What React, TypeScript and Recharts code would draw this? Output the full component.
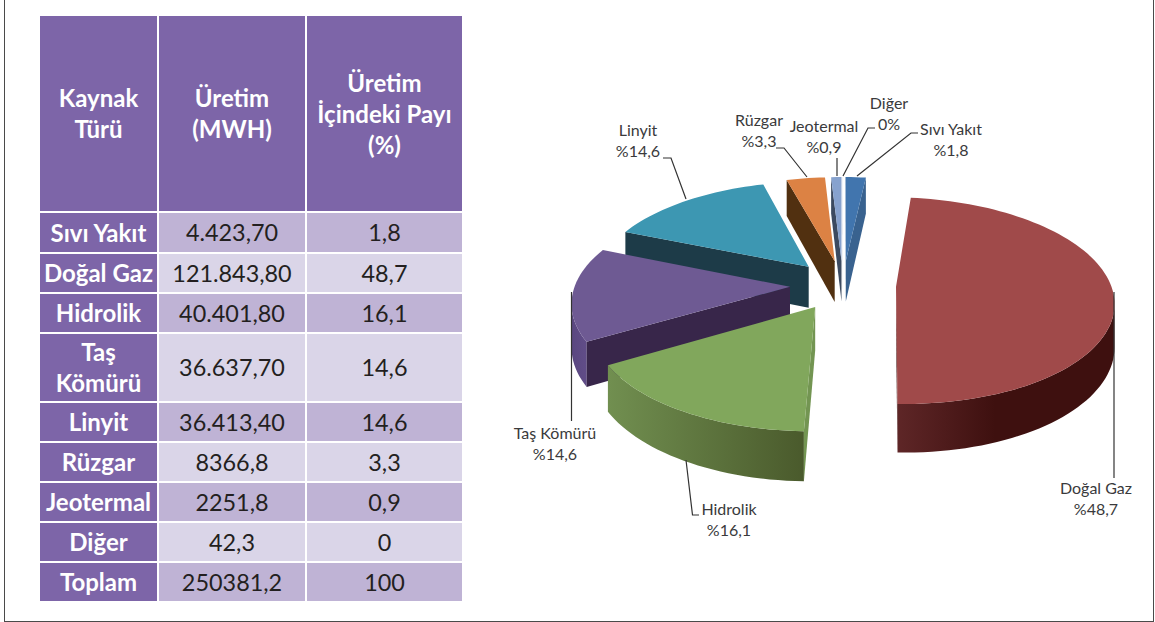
import { PieChart, Pie } from 'recharts'

const HEADERS = [['Kaynak', 'Türü'], ['Üretim', '(MWH)'], ['Üretim', 'İçindeki Payı', '(%)']]
const SOURCES = ['Sıvı Yakıt', 'Doğal Gaz', 'Hidrolik', 'Taş Kömürü', 'Linyit', 'Rüzgar', 'Jeotermal', 'Diğer']
const PRODUCTION = [4423.7, 121843.8, 40401.8, 36637.7, 36413.4, 8366.8, 2251.8, 42.3]
const PRODUCTION_TEXT = ['4.423,70', '121.843,80', '40.401,80', '36.637,70', '36.413,40', '8366,8', '2251,8', '42,3']
const SHARE_TEXT = ['1,8', '48,7', '16,1', '14,6', '14,6', '3,3', '0,9', '0']
const SLICE_LABELS = ['%1,8', '%48,7', '%16,1', '%14,6', '%14,6', '%3,3', '%0,9', '0%']
const TOTAL_TEXT = ['Toplam', '250381,2', '100']

const TOP_COLORS: Record<string, string> = {
  'Sıvı Yakıt': '#4175AE', 'Doğal Gaz': '#A04A4A', 'Hidrolik': '#81A75C', 'Taş Kömürü': '#6E5A93',
  'Linyit': '#3D97B2', 'Rüzgar': '#DC8244', 'Jeotermal': '#87A2CE', 'Diğer': '#B9C8E2',
}
const FACE_COLORS: Record<string, string> = {
  'Sıvı Yakıt': '#39628F', 'Doğal Gaz': '#3E100F', 'Hidrolik': '#739552', 'Taş Kömürü': '#38264A',
  'Linyit': '#1D3B48', 'Rüzgar': '#513010', 'Jeotermal': '#3C4A60', 'Diğer': '#7D8CA6',
}
const ARC_FILLS: Record<string, string> = {
  'Doğal Gaz': 'url(#arcGaz)', 'Hidrolik': 'url(#arcHidrolik)', 'Taş Kömürü': 'url(#arcTas)',
}
// back to front, so nearer slices cover the ones behind them
const DRAW_ORDER = ['Linyit', 'Rüzgar', 'Diğer', 'Jeotermal', 'Sıvı Yakıt', 'Taş Kömürü', 'Hidrolik', 'Doğal Gaz']

// label text centre and leader line (leader starts on the slice)
const LABEL_LAYOUT: Record<string, { x: number; y: number; line: string }> = {
  'Sıvı Yakıt': { x: 951, y: 130, line: '857,176 911,133 918,133' },
  'Doğal Gaz': { x: 1096, y: 489, line: '1114,292 1114,478' },
  'Hidrolik': { x: 729, y: 510, line: '686,460 692.5,515 699,515' },
  'Taş Kömürü': { x: 555, y: 434, line: '571.5,292 571.5,421' },
  'Linyit': { x: 638, y: 131, line: '686,199 671,158 663,158' },
  'Rüzgar': { x: 759, y: 121, line: '807,177 784,148 776,148' },
  'Jeotermal': { x: 824, y: 127, line: '837,176 837,158' },
  'Diğer': { x: 889, y: 104, line: '843,176 868,128 875,128' },
}

const pieData = SOURCES.map((name, i) => ({ name, value: PRODUCTION[i], label: SLICE_LABELS[i] }))

const EXPLODE = 53
const TILT = 0.47
const PERSPECTIVE = 0.134
const DEPTH = 42

// Excel style tilted pie: u goes right, v goes toward the viewer
function makeProjector(cx: number, cy: number, radius: number) {
  return (u: number, v: number, down = 0) => {
    const s = 1 / (1 - (PERSPECTIVE * v) / radius)
    return [cx + u * s, cy + (v * TILT + down) * s]
  }
}

function toPath(points: number[][]) {
  return 'M' + points.map((p) => `${p[0].toFixed(1)},${p[1].toFixed(1)}`).join('L') + 'Z'
}

function Slice3D(props: any) {
  const { cx, cy, outerRadius: r, startAngle, endAngle, midAngle, name } = props
  const project = makeProjector(cx, cy, r)
  const viewer = r / PERSPECTIVE
  const rad = Math.PI / 180
  // recharts angles run counter clockwise from 3 o'clock, here clockwise from 12
  const from = (90 - startAngle) * rad
  const to = (90 - endAngle) * rad
  const mid = (90 - midAngle) * rad
  const au = EXPLODE * Math.sin(mid)
  const av = -EXPLODE * Math.cos(mid)

  const rim = (t: number) => [au + r * Math.sin(t), av - r * Math.cos(t)]
  const steps = Math.max(2, Math.ceil(((to - from) / rad) / 2))
  const angles = Array.from({ length: steps + 1 }, (_, i) => from + ((to - from) * i) / steps)

  const top = [project(au, av), ...angles.map((t) => project(rim(t)[0], rim(t)[1]))]
  const front = angles.filter((t) => {
    const [u, v] = rim(t)
    return Math.sin(t) * -u + -Math.cos(t) * (viewer - v) > 0
  })
  const arc = [
    ...front.map((t) => project(rim(t)[0], rim(t)[1])),
    ...[...front].reverse().map((t) => project(rim(t)[0], rim(t)[1], DEPTH)),
  ]

  const face = (t: number, nu: number, nv: number) => {
    if (nu * -au + nv * (viewer - av) <= 0) return null
    const [u, v] = rim(t)
    return toPath([project(au, av), project(u, v), project(u, v, DEPTH), project(au, av, DEPTH)])
  }
  const startFace = face(from, -Math.cos(from), -Math.sin(from))
  const endFace = face(to, Math.cos(to), Math.sin(to))

  return (
    <g>
      {front.length > 1 && <path d={toPath(arc)} fill={ARC_FILLS[name] ?? FACE_COLORS[name]} />}
      {startFace && <path d={startFace} fill={FACE_COLORS[name]} />}
      {endFace && <path d={endFace} fill={FACE_COLORS[name]} />}
      <path d={toPath(top)} fill={TOP_COLORS[name]} />
    </g>
  )
}

function SliceLabel(props: any) {
  const layout = LABEL_LAYOUT[props.name]
  return (
    <g fontFamily="Lato" fontSize={16} fill="#3a3a3c" textAnchor="middle">
      <polyline points={layout.line} fill="none" stroke="#333" strokeWidth={1.2} />
      <text x={layout.x} y={layout.y + 5}>{props.name}</text>
      <text x={layout.x} y={layout.y + 26}>{props.payload?.label ?? props.label}</text>
    </g>
  )
}

const COL_WIDTHS = [117, 146, 155]
const ROW_HEIGHTS = [39, 38, 38, 67, 38, 38, 38, 38, 38]
const DARK = '#BFB3D5'
const LIGHT = '#DAD5E8'
const PURPLE = '#7D65A8'

const labelCell = { background: PURPLE, color: '#fff', fontWeight: 700, fontSize: 24, padding: 0, lineHeight: '31px' } as const
const valueCell = { color: '#231F20', padding: 0 } as const

function ProductionTable() {
  const rows = [...SOURCES.map((s, i) => [s, PRODUCTION_TEXT[i], SHARE_TEXT[i]]), TOTAL_TEXT]
  return (
    <table style={{
      position: 'absolute', left: 38, top: 13.5, width: 426, borderCollapse: 'separate', borderSpacing: 2,
      tableLayout: 'fixed', fontFamily: 'Lato', fontSize: 23.4, textAlign: 'center',
    }}>
      <colgroup>{COL_WIDTHS.map((w, i) => <col key={i} style={{ width: w }} />)}</colgroup>
      <tbody>
        <tr style={{ height: 195 }}>
          {HEADERS.map((lines, i) => (
            <td key={i} style={labelCell}>
              {lines.map((l) => <div key={l}>{l}</div>)}
            </td>
          ))}
        </tr>
        {rows.map((row, i) => (
          <tr key={row[0]} style={{ height: ROW_HEIGHTS[i] }}>
            <td style={labelCell}>
              {row[0] === 'Taş Kömürü' ? <><div>Taş</div><div>Kömürü</div></> : row[0]}
            </td>
            <td style={{ ...valueCell, background: i % 2 ? LIGHT : DARK }}>{row[1]}</td>
            <td style={{ ...valueCell, background: i % 2 ? LIGHT : DARK }}>{row[2]}</td>
          </tr>
        ))}
      </tbody>
    </table>
  )
}

export default function App() {
  return (
    <div style={{ position: 'absolute', left: 0, top: 0, width: 1155, height: 622, background: '#fff', overflow: 'hidden' }}>
      <div style={{
        position: 'absolute', left: 4, top: -4, width: 1148, height: 624,
        border: '1.5px solid #4a4a4a', boxSizing: 'content-box',
      }} />
      <ProductionTable />
      <div style={{ position: 'absolute', left: 0, top: 0 }}>
        <PieChart width={1155} height={622} margin={{ top: 0, right: 0, bottom: 0, left: 0 }}>
          <defs>
            <linearGradient id="arcGaz" x1="0" y1="0" x2="1" y2="0">
              <stop offset="0" stopColor="#5E2627" />
              <stop offset="0.45" stopColor="#3E100F" />
              <stop offset="1" stopColor="#3E100F" />
            </linearGradient>
            <linearGradient id="arcHidrolik" x1="0" y1="0" x2="1" y2="0">
              <stop offset="0" stopColor="#718F50" />
              <stop offset="1" stopColor="#4A5A2C" />
            </linearGradient>
            <linearGradient id="arcTas" x1="0" y1="0" x2="1" y2="0">
              <stop offset="0" stopColor="#5A4780" />
              <stop offset="1" stopColor="#614D88" />
            </linearGradient>
          </defs>
          {DRAW_ORDER.map((name) => (
            <Pie
              key={name}
              data={pieData}
              dataKey="value"
              nameKey="name"
              cx={843}
              cy={285}
              innerRadius={0}
              outerRadius={215}
              startAngle={90}
              endAngle={-270}
              stroke="none"
              isAnimationActive={false}
              shape={(p: any) => (p.name === name ? <Slice3D {...p} /> : <g />)}
            />
          ))}
          <Pie
            data={pieData}
            dataKey="value"
            nameKey="name"
            cx={843}
            cy={285}
            outerRadius={215}
            startAngle={90}
            endAngle={-270}
            stroke="none"
            isAnimationActive={false}
            shape={() => <g />}
            labelLine={false}
            label={(p: any) => <SliceLabel {...p} />}
          />
        </PieChart>
      </div>
    </div>
  )
}
